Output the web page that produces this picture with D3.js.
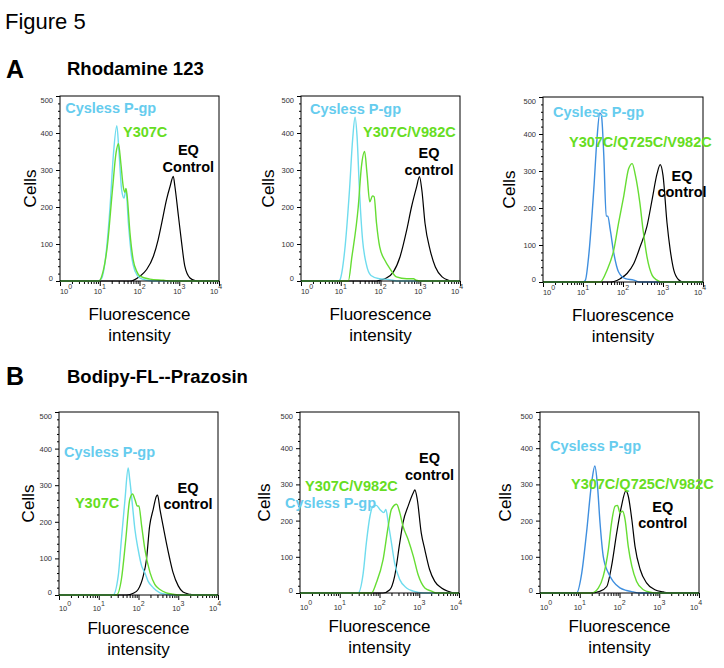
<!DOCTYPE html>
<html><head><meta charset="utf-8">
<script src="https://cdn.jsdelivr.net/npm/d3@7"></script>
<style>
body{margin:0;background:#fff}
svg{display:block;font-family:"Liberation Sans",Arial,Helvetica,sans-serif}
</style>
</head><body>
<svg id="chart" width="724" height="668"></svg>
<script>
// ---------------- DATA (x = log10 fluorescence, y = cell count) ----------------
const yTickValues = [0, 100, 200, 300, 400, 500];
const xDecades = [0, 1, 2, 3, 4];
const seriesNames = ["EQ control", "Cysless P-gp", "Mutant"];

// Panel A1 : Rhodamine 123, Y307C
const a1Black = [[0,0],[1.76,0],[2.01,13],[2.18,31],[2.35,67],[2.47,112],[2.56,157],[2.68,220],[2.77,256],[2.85,283],[2.89,256],[2.98,175],[3.06,103],[3.14,40],[3.27,8],[3.40,1],[3.5,0],[4,0]];
const a1Cyan  = [[0,0],[0.96,0],[1.05,8],[1.13,49],[1.26,202],[1.34,337],[1.43,420],[1.48,355],[1.55,247],[1.61,224],[1.66,247],[1.72,157],[1.80,67],[1.89,26],[2.01,8],[2.18,2],[2.35,0],[4,0]];
const a1Green = [[0,0],[0.98,0],[1.05,13],[1.19,94],[1.32,247],[1.41,346],[1.47,371],[1.53,319],[1.59,256],[1.63,240],[1.66,250],[1.69,229],[1.76,130],[1.84,58],[1.93,26],[2.01,13],[2.26,5],[2.6,2],[2.8,0],[4,0]];
// Panel A2 : Rhodamine 123, Y307C/V982C
const a2Black = [[0,0],[1.9,0],[1.98,2],[2.15,8],[2.32,24],[2.49,65],[2.66,138],[2.78,200],[2.91,255],[2.98,282],[3.04,246],[3.12,156],[3.25,83],[3.38,38],[3.55,11],[3.71,2],[3.8,0],[4,0]];
const a2Cyan  = [[0,0],[0.95,0],[0.98,3],[1.10,83],[1.22,246],[1.30,384],[1.36,443],[1.41,391],[1.47,246],[1.55,110],[1.64,47],[1.76,15],[1.97,6],[2.2,4],[2.3,2],[2.45,0],[4,0]];
const a2Green = [[0,0],[1.19,0],[1.28,65],[1.44,200],[1.52,309],[1.60,350],[1.66,291],[1.73,214],[1.80,230],[1.84,228],[1.90,156],[1.98,92],[2.11,56],[2.24,33],[2.40,11],[2.66,6],[2.83,6],[2.9,2],[3.0,0],[4,0]];
// Panel A3 : Rhodamine 123, Y307C/Q725C/V982C
const a3Black = [[0,0],[1.68,0],[1.93,9],[2.1,23],[2.27,50],[2.43,96],[2.6,151],[2.73,224],[2.85,292],[2.93,317],[3.0,288],[3.1,160],[3.18,87],[3.27,32],[3.39,6],[3.5,0],[4,0]];
const a3Blue  = [[0,0],[1.0,0],[1.06,5],[1.14,68],[1.27,251],[1.35,388],[1.42,457],[1.46,451],[1.52,342],[1.58,178],[1.62,178],[1.68,142],[1.77,78],[1.89,27],[2.06,9],[2.27,5],[2.4,0],[4,0]];
const a3Green = [[0,0],[1.43,0],[1.6,32],[1.77,87],[1.89,160],[2.02,233],[2.14,306],[2.23,320],[2.31,288],[2.42,215],[2.5,142],[2.6,68],[2.73,18],[2.85,5],[2.95,0],[4,0]];
// Panel B1 : Bodipy-FL-Prazosin, Y307C
const b1Black = [[0,0],[1.70,0],[1.87,5],[1.99,15],[2.12,52],[2.20,97],[2.28,188],[2.37,234],[2.45,270],[2.48,273],[2.54,234],[2.62,188],[2.70,143],[2.79,97],[2.87,61],[3.0,25],[3.12,8],[3.29,2],[3.4,0],[4,0]];
const b1Cyan  = [[0,0],[1.36,0],[1.49,52],[1.57,152],[1.66,261],[1.74,347],[1.78,315],[1.85,243],[1.91,179],[1.99,125],[2.08,79],[2.16,61],[2.24,38],[2.37,20],[2.54,6],[2.7,2],[2.8,0],[4,0]];
const b1Green = [[0,0],[1.45,0],[1.57,43],[1.68,152],[1.78,261],[1.85,276],[1.91,261],[1.97,243],[2.01,243],[2.08,188],[2.16,125],[2.29,61],[2.41,29],[2.54,15],[2.70,6],[2.87,2],[3.0,0],[4,0]];
// Panel B2 : Bodipy-FL-Prazosin, Y307C/V982C
const b2Black = [[0,0],[2.09,0],[2.26,9],[2.38,46],[2.51,139],[2.59,194],[2.72,240],[2.85,277],[2.89,285],[2.95,259],[3.05,166],[3.14,120],[3.26,65],[3.39,32],[3.56,14],[3.72,5],[3.89,0],[4,0]];
const b2Cyan  = [[0,0],[1.46,0],[1.59,55],[1.67,139],[1.76,212],[1.84,240],[1.92,242],[2.01,231],[2.11,222],[2.16,231],[2.22,194],[2.30,139],[2.38,83],[2.51,37],[2.68,14],[2.85,5],[3.1,0],[4,0]];
const b2Green = [[0,0],[1.80,0],[1.92,28],[2.09,92],[2.22,185],[2.30,231],[2.43,245],[2.51,222],[2.59,185],[2.72,148],[2.85,102],[2.97,51],[3.14,14],[3.31,5],[3.43,0],[4,0]];
// Panel B3 : Bodipy-FL-Prazosin, Y307C/Q725C/V982C
const b3Black = [[0,0],[1.26,0],[1.51,5],[1.68,18],[1.80,74],[1.93,166],[2.05,240],[2.16,282],[2.22,268],[2.31,203],[2.39,129],[2.52,65],[2.68,28],[2.89,9],[3.10,3],[3.27,0],[4,0]];
const b3Blue  = [[0,0],[0.92,0],[1.05,55],[1.17,166],[1.30,305],[1.38,351],[1.44,305],[1.51,194],[1.59,102],[1.72,55],[1.84,32],[2.01,14],[2.18,7],[2.35,3],[2.5,0],[4,0]];
const b3Green = [[0,0],[1.30,0],[1.47,14],[1.59,46],[1.72,120],[1.80,194],[1.89,240],[1.95,242],[2.01,222],[2.08,226],[2.14,203],[2.22,129],[2.31,74],[2.43,32],[2.60,9],[2.77,2],[2.9,0],[4,0]];

const mutantNames = ["Y307C", "Y307C/V982C", "Y307C/Q725C/V982C", "Y307C", "Y307C/V982C", "Y307C/Q725C/V982C"];
const eqNames = [["EQ","Control"],["EQ","control"],["EQ","control"],["EQ","control"],["EQ","control"],["EQ","control"]];

// ---------------- LAYOUT / STYLE ----------------
const COL = {black:"#000000", cyan:"#6fdcee", blue:"#3f8fdf", green:"#66dd33", cyanText:"#66ccee", greenText:"#66dd22"};
const panels = [
  {black:a1Black, cys:a1Cyan, mut:a1Green, cysCol:COL.cyan, box:[60,219,96,281], tickDy:13,
   cysLab:[0.13,454], mutLab:[1.585,390], eqLab:[3.23,340]},
  {black:a2Black, cys:a2Cyan, mut:a2Green, cysCol:COL.cyan, box:[301,460,96,281], tickDy:13,
   cysLab:[0.226,451], mutLab:[1.56,389], eqLab:[3.22,332]},
  {black:a3Black, cys:a3Blue, mut:a3Green, cysCol:COL.blue, box:[543,703,97,282], tickDy:13,
   cysLab:[0.25,446], mutLab:[0.65,365], eqLab:[3.475,273]},
  {black:b1Black, cys:b1Cyan, mut:b1Green, cysCol:COL.cyan, box:[59,218,412,595], tickDy:16,
   cysLab:[0.126,377], mutLab:[0.40,238], eqLab:[3.245,279]},
  {black:b2Black, cys:b2Cyan, mut:b2Green, cysCol:COL.cyan, box:[300,459,412,593], tickDy:17,
   cysLab:[-0.377,235], mutLab:[0.126,282], eqLab:[3.26,359]},
  {black:b3Black, cys:b3Blue, mut:b3Green, cysCol:COL.blue, box:[540,699,412,593], tickDy:17,
   cysLab:[0.25,392], mutLab:[0.78,287], eqLab:[3.09,224]}
];
const cellsOffset = [30,33,34,31,36,35];

const svg = d3.select("#chart");

// Titles
svg.append("text").attr("x",5).attr("y",29).attr("font-size",22).text("Figure 5");
svg.append("text").attr("x",6).attr("y",78).attr("font-size",25).attr("font-weight","bold").text("A");
svg.append("text").attr("x",67).attr("y",75).attr("font-size",18.5).attr("font-weight","bold").text("Rhodamine 123");
svg.append("text").attr("x",6).attr("y",385).attr("font-size",25).attr("font-weight","bold").text("B");
svg.append("text").attr("x",67).attr("y",383).attr("font-size",18.5).attr("font-weight","bold").text("Bodipy-FL--Prazosin");

panels.forEach((p, i) => {
  const [L, R, T, B] = p.box;
  const x = d3.scaleLog().domain([1, 1e4]).range([L, R]);
  const y = d3.scaleLinear().domain([0, 500]).range([B, T]);
  const g = svg.append("g");

  // Minor y ticks
  const minorY = d3.range(0, 501, 20).filter(v => v % 100 !== 0);
  g.append("g").attr("transform",`translate(${L},0)`)
    .call(d3.axisLeft(y).tickValues(minorY).tickSize(2).tickFormat(""))
    .call(s => s.select(".domain").remove());
  // Major y ticks
  const ya = g.append("g").attr("transform",`translate(${L},0)`)
    .call(d3.axisLeft(y).tickValues(yTickValues).tickSize(4).tickPadding(3).tickFormat(d3.format("d")));
  ya.select(".domain").remove();
  ya.selectAll("text").attr("font-size",7.5).attr("fill","#333")
    .attr("font-family",'"Liberation Sans Narrow","Liberation Sans",Arial,sans-serif')
    .attr("dy", d => d === 0 ? "-0.05em" : d === 500 ? "0.9em" : "0.32em");

  // Minor x ticks (log)
  const minorX = [];
  xDecades.slice(0, 4).forEach(k => { for (let m = 2; m <= 9; m++) minorX.push(m * Math.pow(10, k)); });
  g.append("g").attr("transform",`translate(0,${B})`)
    .call(d3.axisBottom(x).tickValues(minorX).tickSize(3).tickFormat(""))
    .call(s => s.select(".domain").remove());
  g.append("g").attr("transform",`translate(0,${B})`)
    .call(d3.axisBottom(x).tickValues(xDecades.map(k => Math.pow(10, k))).tickSize(5).tickFormat(""))
    .call(s => s.select(".domain").remove());
  // x tick labels 10^k
  xDecades.forEach(k => {
    const off = k === 0 ? 6 : (k === 4 ? -3 : 0);
    const t = g.append("text").attr("x", x(Math.pow(10, k)) + off).attr("y", B + p.tickDy)
      .attr("text-anchor","middle").attr("font-size",7.5).attr("fill","#333")
      .attr("font-family",'"Liberation Sans Narrow","Liberation Sans",Arial,sans-serif');
    t.append("tspan").text("10");
    t.append("tspan").attr("dy",-5).attr("font-size",7).text(String(k));
  });

  // Histogram lines
  const line = d3.line().x(d => x(Math.pow(10, d[0]))).y(d => y(d[1])).curve(d3.curveMonotoneX);
  const clipId = "clip" + i;
  g.append("clipPath").attr("id", clipId).append("rect").attr("x",L).attr("y",T).attr("width",R-L).attr("height",B-T+1);
  const lg = g.append("g").attr("clip-path",`url(#${clipId})`);
  lg.append("path").datum(p.black).attr("d", line).attr("fill","none").attr("stroke",COL.black).attr("stroke-width",1.2);
  lg.append("path").datum(p.cys).attr("d", line).attr("fill","none").attr("stroke",p.cysCol).attr("stroke-width",1.4);
  lg.append("path").datum(p.mut).attr("d", line).attr("fill","none").attr("stroke",COL.green).attr("stroke-width",1.4);

  // Box
  g.append("rect").attr("x",L).attr("y",T).attr("width",R-L).attr("height",B-T)
    .attr("fill","none").attr("stroke","#000").attr("stroke-width",1);

  // Annotations
  const lab = (pos, txt, col) => g.append("text").attr("x", x(Math.pow(10,pos[0]))).attr("y", y(pos[1]))
      .attr("font-size",14.5).attr("font-weight","bold").attr("fill",col).text(txt);
  lab(p.cysLab, seriesNames[1], COL.cyanText);
  lab(p.mutLab, mutantNames[i], COL.greenText);
  const eq = g.append("text").attr("x", x(Math.pow(10,p.eqLab[0]))).attr("y", y(p.eqLab[1]))
      .attr("font-size",14.5).attr("font-weight","bold").attr("text-anchor","middle").attr("fill","#000");
  eq.append("tspan").attr("x", x(Math.pow(10,p.eqLab[0]))).text(eqNames[i][0]);
  eq.append("tspan").attr("x", x(Math.pow(10,p.eqLab[0]))).attr("dy",16.5).text(eqNames[i][1]);

  // Axis titles
  const cx = (L + R) / 2;
  g.append("text").attr("x",cx).attr("y",B+39).attr("text-anchor","middle").attr("font-size",17).text("Fluorescence");
  g.append("text").attr("x",cx).attr("y",B+60).attr("text-anchor","middle").attr("font-size",17).text("intensity");
  g.append("text").attr("transform",`translate(${L - cellsOffset[i] + 6},${(T+B)/2}) rotate(-90)`)
    .attr("text-anchor","middle").attr("font-size",17).text("Cells");
});
</script>
</body></html>
